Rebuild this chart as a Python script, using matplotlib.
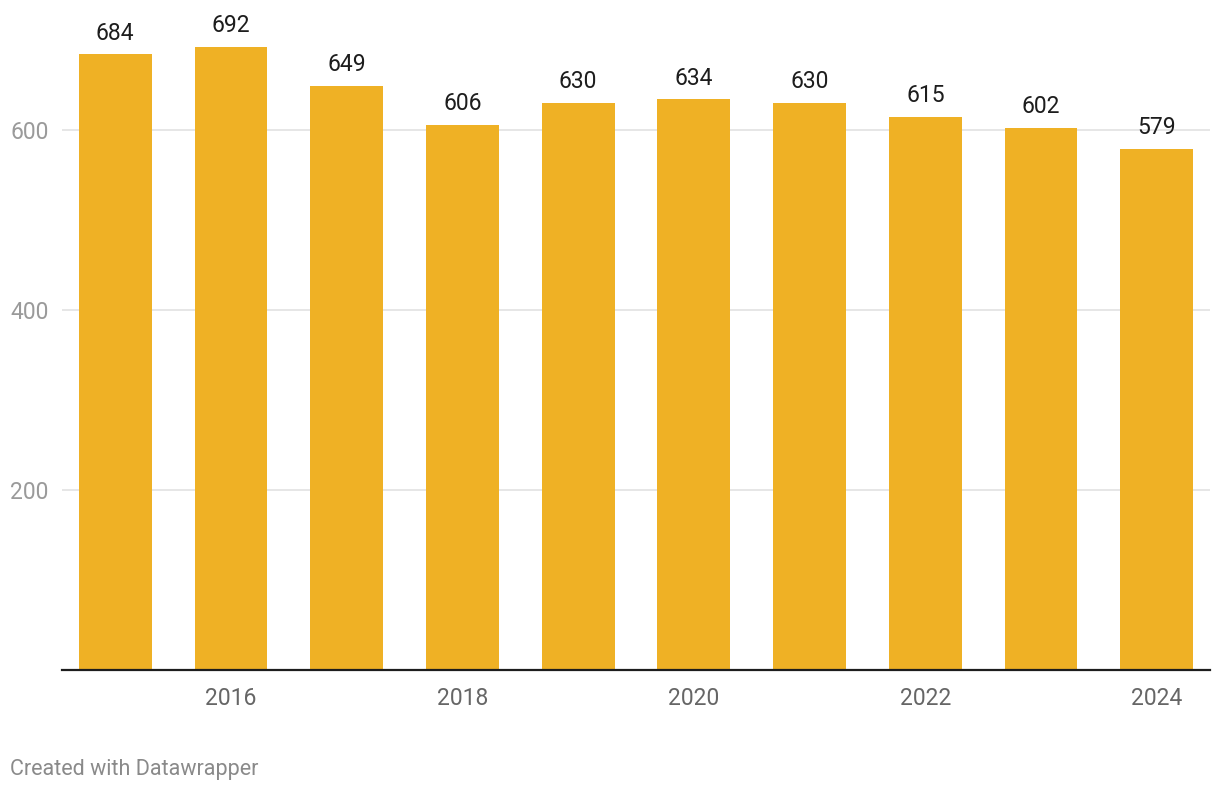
import matplotlib
matplotlib.use("Agg")
import matplotlib.pyplot as plt

years = [2015, 2016, 2017, 2018, 2019, 2020, 2021, 2022, 2023, 2024]
values = [684, 692, 649, 606, 630, 634, 630, 615, 602, 579]
yticks = [200, 400, 600]
xticks = [2016, 2018, 2020, 2022, 2024]

plt.rcParams['font.family'] = ['Roboto', 'DejaVu Sans']

W, H = 1220, 792
fig = plt.figure(figsize=(W/100, H/100), dpi=100)
base = 670
ax = fig.add_axes([62/W, 1-base/H, (1210-62)/W, base/H])
ax.set_xlim(2015-0.46, 2024+0.46)
ax.set_ylim(0, base/0.9)

for y in yticks:
    ax.axhline(y, color='#e1e1e1', lw=1.2, zorder=0)

bars = ax.bar(years, values, width=0.63, color='#EFB125', zorder=2)
for x, v in zip(years, values):
    ax.annotate(str(v), (x, v), xytext=(0, 7), textcoords='offset points',
                ha='center', va='bottom', fontsize=16.5, color='#1d1d1d')

for s in ['top', 'right', 'left']:
    ax.spines[s].set_visible(False)
ax.spines['bottom'].set_color('#1d1d1d')
ax.spines['bottom'].set_linewidth(1.6)
ax.spines['bottom'].set_zorder(3)

ax.set_yticks(yticks)
ax.set_yticklabels([str(y) for y in yticks])
ax.tick_params(axis='y', length=0, pad=9.5, labelsize=16.5, labelcolor='#9a9a9a')
for lbl in ax.get_yticklabels():
    lbl.set_horizontalalignment('right')
ax.set_xticks(xticks)
ax.set_xticklabels([str(x) for x in xticks])
ax.tick_params(axis='x', length=0, pad=12, labelsize=16.5, labelcolor='#666666')

fig.text(10/W, 1-769/H, 'Created with Datawrapper', fontsize=15.5, color='#8a8a8a',
         ha='left', va='center')

fig.savefig('out.png', dpi=100)
